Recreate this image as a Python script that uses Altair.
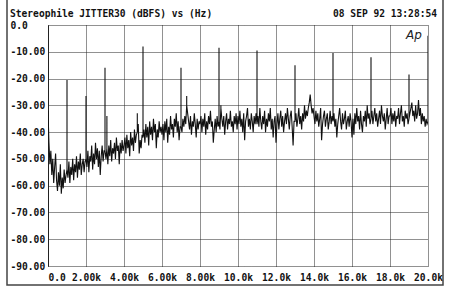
import altair as alt
import pandas as pd

# ---- data ----
# FFT noise floor, one row per kHz, 20 values per row (every 0.05 kHz), dBFS
noise_rows = [
    [-32, -44, -52, -47, -56, -50, -59, -53, -48, -58, -62, -55, -60, -52, -63, -57, -61, -54, -59, -56],  # 0k
    [-54, -57, -51, -59, -53, -56, -50, -58, -52, -55, -49, -57, -51, -54, -48, -56, -52, -50, -55, -51],  # 1k
    [-50, -53, -47, -55, -49, -51, -45, -54, -48, -52, -44, -50, -46, -53, -47, -56, -49, -45, -51, -47],  # 2k
    [-47, -50, -46, -52, -45, -49, -43, -51, -46, -48, -44, -50, -42, -47, -45, -52, -44, -48, -43, -47],  # 3k
    [-45, -42, -48, -41, -46, -43, -49, -40, -45, -42, -47, -39, -44, -41, -40, -37, -48, -43, -46, -41],  # 4k
    [-42, -39, -44, -37, -42, -38, -45, -36, -41, -38, -43, -35, -40, -37, -46, -39, -42, -36, -40, -38],  # 5k
    [-41, -37, -43, -36, -40, -35, -44, -38, -41, -34, -39, -37, -42, -35, -38, -33, -40, -36, -43, -38],  # 6k
    [-38, -40, -35, -38, -34, -37, -30, -33, -36, -39, -34, -41, -36, -38, -33, -37, -42, -35, -39, -36],  # 7k
    [-37, -34, -40, -35, -38, -33, -41, -36, -39, -34, -37, -32, -38, -36, -44, -39, -35, -40, -34, -38],  # 8k
    [-36, -39, -31, -35, -38, -34, -41, -36, -33, -39, -35, -37, -32, -38, -36, -40, -34, -37, -33, -39],  # 9k
    [-34, -37, -32, -38, -35, -40, -33, -43, -36, -34, -31, -38, -35, -39, -33, -36, -40, -34, -37, -33],  # 10k
    [-37, -34, -38, -31, -36, -39, -34, -37, -32, -40, -35, -38, -33, -36, -31, -39, -35, -42, -36, -34],  # 11k
    [-44, -37, -33, -39, -35, -32, -38, -34, -40, -36, -33, -37, -31, -35, -39, -34, -32, -38, -45, -36],  # 12k
    [-36, -33, -38, -35, -31, -37, -34, -39, -33, -36, -30, -35, -32, -34, -31, -29, -26, -30, -33, -31],  # 13k
    [-34, -37, -32, -36, -33, -38, -35, -31, -43, -37, -34, -32, -38, -35, -33, -39, -36, -32, -37, -34],  # 14k
    [-36, -33, -38, -35, -42, -37, -34, -31, -36, -39, -33, -37, -35, -32, -39, -36, -34, -38, -33, -36],  # 15k
    [-42, -35, -41, -33, -37, -31, -36, -34, -39, -32, -37, -40, -34, -36, -32, -38, -30, -35, -33, -37],  # 16k
    [-35, -32, -37, -34, -31, -36, -33, -38, -35, -32, -37, -30, -34, -36, -33, -39, -35, -31, -37, -34],  # 17k
    [-34, -31, -37, -33, -36, -32, -38, -34, -35, -31, -37, -33, -30, -36, -34, -38, -32, -35, -33, -37],  # 18k
    [-35, -33, -31, -29, -34, -32, -36, -30, -35, -33, -28, -34, -31, -37, -33, -36, -34, -38, -35, -37],  # 19k
    [-36],                                                                                                  # 20k
]
step_khz = 0.05

# discrete jitter spikes (kHz, dBFS peak)
spike_khz = [1.0, 2.0, 3.0, 3.1, 4.7, 5.0, 7.0, 7.3, 9.0, 9.1, 11.0, 13.0, 15.0, 17.0, 19.0, 20.0]
spike_db = [-20.5, -26.5, -16, -34, -33, -8, -16, -26.5, -8.5, -30, -9.5, -15, -10.5, -12, -18.5, -4]

x_ticks = [0, 2, 4, 6, 8, 10, 12, 14, 16, 18, 20]
y_ticks = [0, -10, -20, -30, -40, -50, -60, -70, -80, -90]

title_text = "Stereophile JITTER30 (dBFS) vs (Hz)"
date_text = "08 SEP 92 13:28:54"
logo_text = "Ap"

# ---- build trace ----
spikes = {round(f / step_khz): v for f, v in zip(spike_khz, spike_db)}
rows = []
order = 0
for k, row in enumerate(noise_rows):
    for j, v in enumerate(row):
        idx = k * 20 + j
        f = k + j * step_khz
        if idx in spikes:
            for val in (v, spikes[idx], v):
                rows.append({"f": f, "db": val, "o": order})
                order += 1
        else:
            rows.append({"f": f, "db": v, "o": order})
            order += 1
trace = pd.DataFrame(rows)

FONT = "DejaVu Sans Mono"

x_enc = alt.X(
    "f:Q",
    scale=alt.Scale(domain=[0, 20], nice=False, zero=False),
    axis=alt.Axis(
        title=None,
        values=x_ticks,
        grid=True,
        domain=False,
        ticks=False,
        labelPadding=6,
        labelAlign={"condition": {"test": "datum.value == 0", "value": "left"}, "value": "center"},
        labelExpr="datum.value == 0 ? '0.0' : (datum.value < 10 ? format(datum.value, '.2f') + 'k' : format(datum.value, '.1f') + 'k')",
    ),
)
y_enc = alt.Y(
    "db:Q",
    scale=alt.Scale(domain=[-90, 0], nice=False, zero=False),
    axis=alt.Axis(
        title=None,
        values=y_ticks,
        grid=True,
        domain=True,
        ticks=False,
        labelAlign="left",
        labelBaseline="middle",
        labelPadding=38,
        labelExpr="datum.value == 0 ? '0.0' : '-' + format(abs(datum.value), '.2f')",
    ),
)

line = alt.Chart(trace).mark_line(color="#111111", strokeWidth=1.1, clip=True).encode(
    x=x_enc, y=y_enc, order="o:Q"
)

title = alt.Chart(pd.DataFrame({"t": [title_text]})).mark_text(
    font=FONT, fontWeight="bold", fontSize=9.6, align="left", baseline="middle", color="#111"
).encode(text="t:N", x=alt.value(-38), y=alt.value(-11))

date = alt.Chart(pd.DataFrame({"t": [date_text]})).mark_text(
    font=FONT, fontWeight="bold", fontSize=9.6, align="right", baseline="middle", color="#111"
).encode(text="t:N", x=alt.value(389), y=alt.value(-11))

logo = alt.Chart(pd.DataFrame({"t": [logo_text]})).mark_text(
    font="DejaVu Sans", fontStyle="italic", fontSize=12, align="center", baseline="middle", color="#222"
).encode(text="t:N", x=alt.value(366), y=alt.value(10))

border = alt.Chart(pd.DataFrame({"a": [0]})).mark_rect(
    fillOpacity=0, stroke="#444", strokeWidth=1.5
).encode(x=alt.value(-41), x2=alt.value(395), y=alt.value(-40), y2=alt.value(260))

chart = (
    alt.layer(line, title, date, logo, border)
    .properties(
        width=380,
        height=241,
        autosize=alt.AutoSizeParams(type="none"),
        padding={"left": 48, "top": 25, "right": 22, "bottom": 30},
        background="white",
    )
    .configure_view(strokeWidth=0)
    .configure_axis(
        labelFont=FONT,
        labelFontWeight="bold",
        labelFontSize=9.6,
        labelColor="#111",
        gridColor="#222",
        gridDash=[1, 1],
        gridWidth=1,
        gridOpacity=1,
        domainColor="#222",
        domainWidth=1,
        tickSize=0,
    )
)

chart.save("out.html", embed_options={"renderer": "svg", "actions": False})
